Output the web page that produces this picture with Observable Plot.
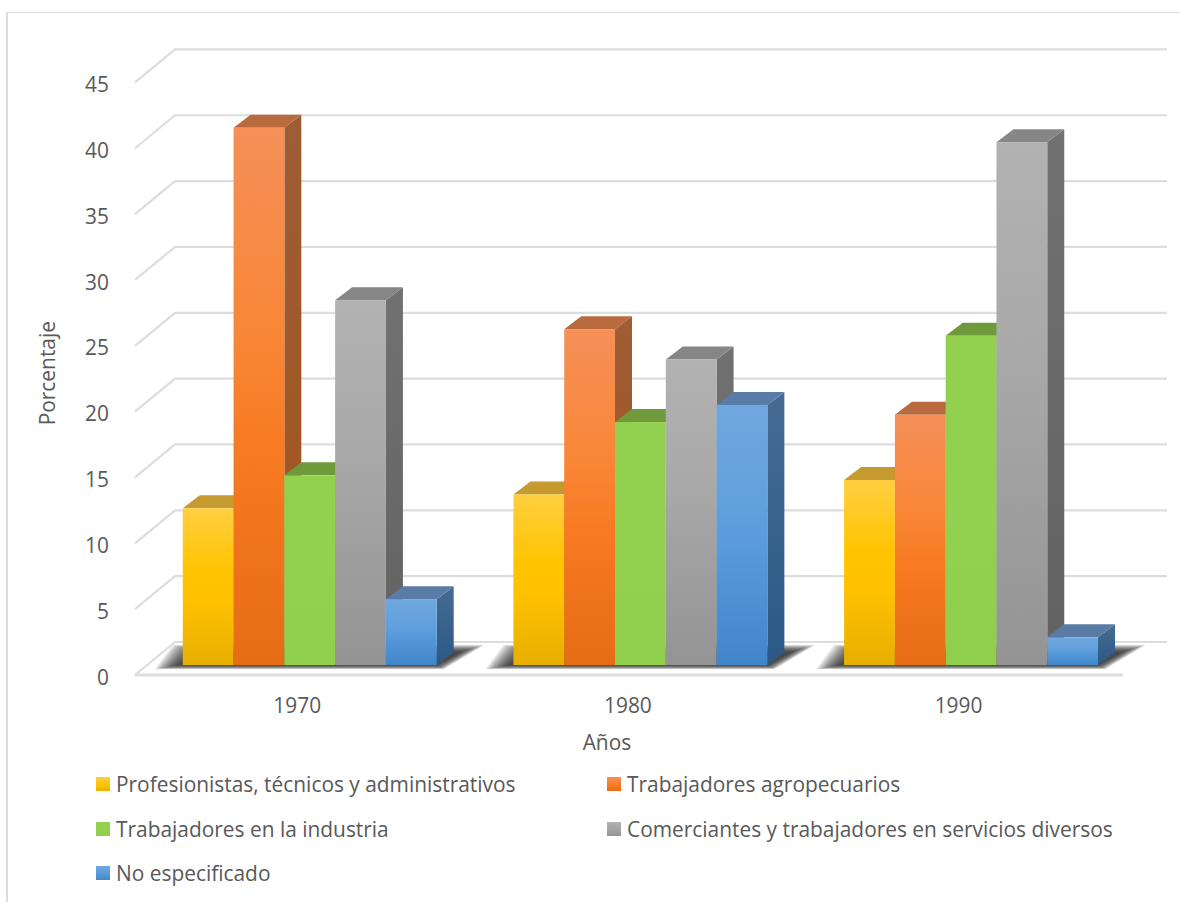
<!DOCTYPE html>
<html lang="es">
<head>
<meta charset="utf-8">
<title>Población ocupada por sector</title>
<script src="https://cdn.jsdelivr.net/npm/d3@7"></script>
<script src="https://cdn.jsdelivr.net/npm/@observablehq/plot@0.6"></script>
<style>
  html, body { margin: 0; background: #fff; overflow: hidden; }
  body { position: relative; width: 1180px; height: 902px; font-family: "Open Sans", "Noto Sans", sans-serif; color: #595959; }
  #frame { position: absolute; left: 6px; top: 12px; right: 0; bottom: 0; border-left: 2px solid #dcdcdc; border-top: 1.5px solid #dcdcdc; }
  #chart { position: absolute; left: 0; top: 0; }
  #legend { position: absolute; left: 0; top: 0; }
  .key { position: absolute; display: flex; align-items: center; font-size: 20.9px; line-height: 24px; white-space: nowrap; }
  .key i { display: inline-block; width: 14px; height: 14px; margin-right: 6px; }
</style>
</head>
<body>
<div id="frame"></div>
<div id="chart"></div>
<div id="legend"></div>
<script>
// Distribución porcentual de la población ocupada por año censal
const years = [1970, 1980, 1990];
const profesionistas = [11.9, 12.95, 14.05];
const agropecuarios = [40.8, 25.5, 19.0];
const industria = [14.4, 18.45, 25.0];
const comerciantes = [27.7, 23.2, 39.7];
const noEspecificado = [5.0, 19.75, 2.1];

const yTicks = [0, 5, 10, 15, 20, 25, 30, 35, 40, 45];

const series = [
  { name: "Profesionistas, técnicos y administrativos", values: profesionistas, id: "s0",
    face: ["#ffcf40", "#ffc400", "#ffc000", "#e6b000"], top: "#c59a2e", side: ["#a8830f", "#a07c05"] },
  { name: "Trabajadores agropecuarios", values: agropecuarios, id: "s1",
    face: ["#f59058", "#f98636", "#f87a22", "#e66c16"], top: "#b96b3e", side: ["#9e5d36", "#a3541c"] },
  { name: "Trabajadores en la industria", values: industria, id: "s2",
    face: ["#92d050", "#92d050", "#92d050", "#90cf4e"], top: "#6f9a3c", side: ["#6f9a3c", "#6a9438"] },
  { name: "Comerciantes y trabajadores en servicios diversos", values: comerciantes, id: "s3",
    face: ["#b2b2b2", "#a9a9a9", "#a2a2a2", "#949494"], top: "#868686", side: ["#717171", "#626262"] },
  { name: "No especificado", values: noEspecificado, id: "s4",
    face: ["#70a7de", "#62a0dd", "#5598da", "#4285c8"], top: "#587ca6", side: ["#466b93", "#2b5985"] }
];

// Perspective of the box: bars sit on a floor between a front plane and a back wall
const barDepth = [17, -13];
const frontPlane = 10;
const backWall = -23;
const wallLeft = 175;
const wallRight = 1167;
const floorLeft = 135;
const floorRight = 1123;

// Each group spans this many years around its census year
const offset = d3.scaleBand().domain(series.map(s => s.id)).range([-3.84, 3.84]);

function rowsOf(s) {
  return years.map((year, i) => ({ year, value: s.values[i] }));
}

function polygons(points, attrs) {
  return (index, scales, values) => {
    const g = d3.create("svg:g");
    for (const i of index) {
      const box = { x1: values.x1[i], x2: values.x2[i], y1: values.y1[i], y2: values.y2[i] };
      const p = g.append("polygon").attr("points", points(box).map(q => q.join(",")).join(" "));
      for (const [k, v] of Object.entries(attrs)) p.attr(k, v);
    }
    return g.node();
  };
}

function barMarks(s) {
  const rows = rowsOf(s);
  const extent = {
    x1: d => d.year + offset(s.id),
    x2: d => d.year + offset(s.id) + offset.bandwidth(),
    y1: () => 0,
    y2: d => d.value
  };
  const [dx, dy] = barDepth;
  return [
    Plot.rect(rows, { ...extent, render: polygons(
      b => [[b.x2, b.y1], [b.x2 + dx, b.y1 + dy], [b.x2 + dx, b.y2 + dy], [b.x2, b.y2]],
      { fill: `url(#${s.id}-side)` }) }),
    Plot.rect(rows, { ...extent, render: polygons(
      b => [[b.x1, b.y2], [b.x1 + dx, b.y2 + dy], [b.x2 + dx, b.y2 + dy], [b.x2, b.y2]],
      { fill: s.top }) }),
    Plot.rect(rows, { ...extent, fill: `url(#${s.id}-face)` })
  ];
}

// Walls and floor: one polyline per tick, running along the side wall and the back wall
const walls = Plot.ruleY(yTicks, {
  render(index, scales, values) {
    const g = d3.create("svg:g").attr("fill", "none").attr("stroke", "#dddddd").attr("stroke-width", 2.2);
    for (const i of index) {
      const y = values.y[i];
      g.append("polyline").attr("points",
        `${floorLeft},${y + frontPlane} ${wallLeft},${y + backWall} ${wallRight},${y + backWall}`);
    }
    const y0 = scales.y(0) + frontPlane;
    g.append("line").attr("x1", floorLeft).attr("x2", floorRight).attr("y1", y0).attr("y2", y0)
      .attr("stroke-width", 3);
    return g.node();
  }
});

// Soft shadow cast on the floor under each group, built from stacked translucent outlines
const shadowSpread = [24, 22.5, 21, 19.5, 18, 16.5, 15, 13.5, 12, 10.5, 9, 7.5, 6, 4.5, 3, 1.5, 0];
const shadowMarks = shadowSpread.map(s => Plot.rect(years, {
  x1: d => d + offset(series[0].id),
  x2: d => d + offset(series[4].id) + offset.bandwidth(),
  y1: () => 0,
  y2: () => 0,
  render: polygons(
    b => [
      [b.x1 - 4 - s, b.y1 + s * 0.18],
      [b.x1 + 14 - s, b.y1 - 13 - s * 0.3],
      [b.x2 + 24 + s, b.y1 - 13 - s * 0.3],
      [b.x2 + s * 0.3, b.y1 + s * 0.18]
    ],
    { fill: "#262626", "fill-opacity": 0.09 })
}));

const chart = Plot.plot({
  width: 1180,
  height: 762,
  marginLeft: 144.4,
  marginRight: 43.6,
  marginTop: 72.4,
  marginBottom: 97,
  x: { domain: [1965, 1995] },
  y: { domain: [0, 45] },
  color: "#595959",
  style: { fontFamily: '"Open Sans", "Noto Sans", sans-serif', fontSize: "20.9px", color: "#595959", background: "transparent", overflow: "visible" },
  marks: [
    walls,
    ...shadowMarks,
    ...series.flatMap(barMarks),
    Plot.axisY(yTicks, { anchor: "left", tickSize: 0, tickPadding: 36, dy: 12.5, label: null, fill: "#595959", fontVariant: "normal" }),
    Plot.axisX(years, { anchor: "bottom", tickSize: 0, tickPadding: 32.5, dx: -13, label: null, tickFormat: d => String(d), fill: "#595959", fontVariant: "normal" }),
    Plot.text(["Porcentaje"], { frameAnchor: "left", textAnchor: "middle", rotate: -90, dx: -97, dy: 4, fill: "#595959" }),
    Plot.text(["Años"], { frameAnchor: "bottom", dx: -34, dy: 84, fill: "#595959" })
  ]
});

// Gradients referenced by the marks above
const defs = d3.select(chart).insert("defs", ":first-child");
function gradient(id, colors) {
  const g = defs.append("linearGradient").attr("id", id).attr("x1", 0).attr("y1", 0).attr("x2", 0).attr("y2", 1);
  colors.forEach((c, i) => g.append("stop").attr("offset", colors.length === 4 ? [0, 0.4, 0.6, 1][i] : i).attr("stop-color", c));
}
for (const s of series) {
  gradient(`${s.id}-face`, s.face);
  gradient(`${s.id}-side`, s.side);
}

document.getElementById("chart").append(chart);

// Legend laid out in two columns, drawn below the plot
const legendColumns = [96, 607];
const legendRows = [784, 828.5, 873];
const legend = d3.select("#legend");
series.forEach((s, i) => {
  const key = legend.append("div").attr("class", "key")
    .style("left", legendColumns[i % 2] + "px")
    .style("top", legendRows[Math.floor(i / 2)] - 12 + "px");
  key.append("i").style("background", `linear-gradient(${s.face[0]}, ${s.face[2]} 60%, ${s.face[3]})`);
  key.append("span").text(s.name);
});
</script>
</body>
</html>
